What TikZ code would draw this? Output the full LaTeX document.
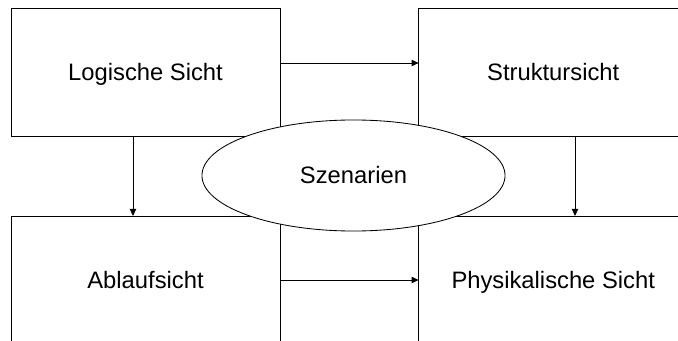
\documentclass[tikz,border=0pt]{standalone}
\usepackage{fontspec}
\setmainfont{Liberation Sans}
\usetikzlibrary{shapes,arrows.meta}

\begin{document}
\begin{tikzpicture}[
  x=0.025cm, y=-0.025cm,
  viewStyle/.style={draw, line width=0.6pt, inner sep=0pt, outer sep=0pt, minimum width=6.725cm, minimum height=3.2cm, text height=11.6pt, text depth=0pt, font=\fontsize{16.9}{20}\selectfont},
  scenStyle/.style={ellipse, draw, fill=white, line width=0.6pt, inner sep=0pt, outer sep=0pt, minimum width=7.575cm, minimum height=2.775cm, text height=11.6pt, text depth=0pt, font=\fontsize{16.9}{20}\selectfont},
  arrowStyle/.style={line width=0.6pt, -{Triangle[length=5pt, width=4.5pt]}}]

\useasboundingbox (0,0) rectangle (678,341);
\clip (0,0) rectangle (678,341);

\node [viewStyle] (logic) at (145.5, 72) {Logische Sicht};
\node [viewStyle] (struct) at (553.2, 72) {Struktursicht};
\node [viewStyle] (flow) at (145.5, 280) {Ablaufsicht};
\node [viewStyle] (phys) at (553.2, 280) {Physikalische Sicht};

\draw [arrowStyle] ([yshift=0.225cm]logic.east) -- ([yshift=0.225cm]struct.west);
\draw [arrowStyle] (flow.east) -- (phys.west);
\draw [arrowStyle] ([xshift=-0.3125cm]logic.south) -- ([xshift=-0.3125cm]flow.north);
\draw [arrowStyle] ([xshift=0.545cm]struct.south) -- ([xshift=0.545cm]phys.north);

\node [scenStyle] (scen) at (353.5, 175.5) {Szenarien};
\end{tikzpicture}
\end{document}
